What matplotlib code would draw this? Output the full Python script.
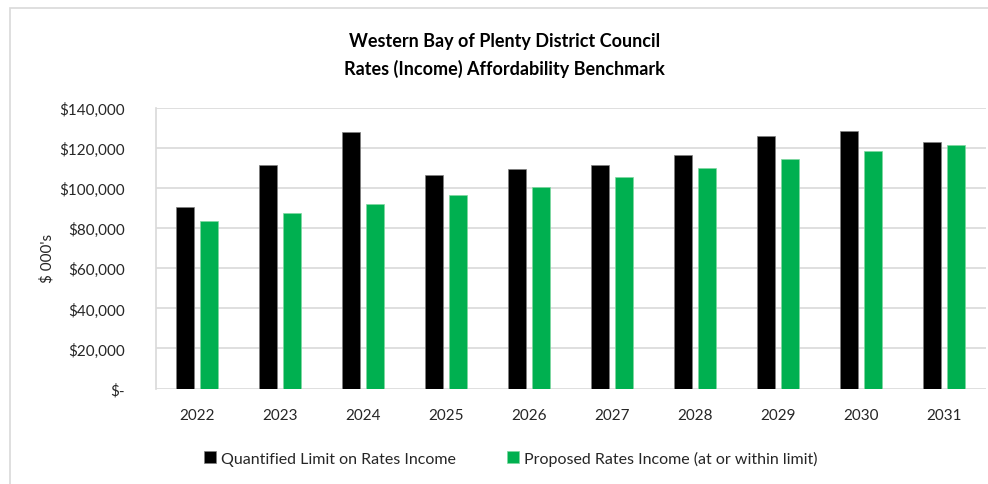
import numpy as np
import matplotlib
matplotlib.use("Agg")
import matplotlib.pyplot as plt
from matplotlib.ticker import FuncFormatter
from matplotlib.patches import Rectangle

years = ["2022", "2023", "2024", "2025", "2026", "2027", "2028", "2029", "2030", "2031"]
limit = [90500, 111500, 127800, 106500, 109500, 111800, 116700, 126200, 128500, 123000]
proposed = [83500, 87800, 92200, 96500, 100500, 105700, 110000, 114700, 118300, 121500]

plt.rcParams['font.family'] = ['Lato', 'DejaVu Sans']

fig = plt.figure(figsize=(9.88, 4.85), dpi=100)
ax = fig.add_axes([155.5 / 988, 1 - 389.5 / 485, 830 / 988, 280.5 / 485])

# outer chart border
fig.patches.append(Rectangle((10 / 988, -0.1), 1.0, (485 - 9) / 485 + 0.1,
                             transform=fig.transFigure, fill=False,
                             edgecolor='#d9d9d9', linewidth=1.2))

x = np.arange(len(years))
w = 0.22
ax.bar(x - 0.143, limit, w, color='black', edgecolor='#7f7f7f', linewidth=0.5,
       label='Quantified Limit on Rates Income', zorder=3)
ax.bar(x + 0.143, proposed, w, color='#00b050', edgecolor='#7fd8a0', linewidth=0.5,
       label='Proposed Rates Income (at or within limit)', zorder=3)

ax.set_xlim(-0.5, len(years) - 0.5)
ax.set_ylim(0, 140000)
ax.set_yticks(np.arange(0, 140001, 20000))
ax.yaxis.set_major_formatter(FuncFormatter(lambda v, p: "$-" if v == 0 else f"${v:,.0f}"))
ax.set_xticks(x)
ax.set_xticklabels(years)
ax.grid(axis='y', color='#d9d9d9', linewidth=1.2, zorder=0)
for s in ['top', 'right', 'bottom']:
    ax.spines[s].set_visible(False)
ax.spines['left'].set_color('#d9d9d9')
ax.spines['left'].set_linewidth(1.2)
ax.tick_params(axis='both', length=0, labelsize=11, colors='#262626')
ax.tick_params(axis='y', pad=22)
ax.tick_params(axis='x', pad=14)

fig.text(47 / 988, 1 - 258 / 485, "$ 000's", rotation=90, ha='center', va='center',
         fontsize=11, color='#262626')

fig.text(0.511, 1 - 41 / 485, "Western Bay of Plenty District Council", ha='center', va='center',
         fontsize=13, fontweight='bold', color='black')
fig.text(0.511, 1 - 69 / 485, "Rates (Income) Affordability Benchmark", ha='center', va='center',
         fontsize=13, fontweight='bold', color='black')

fig.legend(loc='center', bbox_to_anchor=(0.517, 1 - 459 / 485), ncol=2, frameon=False,
           fontsize=11.5, handlelength=0.75, handleheight=0.75, handletextpad=0.3,
           columnspacing=3.2, labelcolor='#262626')

fig.savefig("out.png", dpi=100)
